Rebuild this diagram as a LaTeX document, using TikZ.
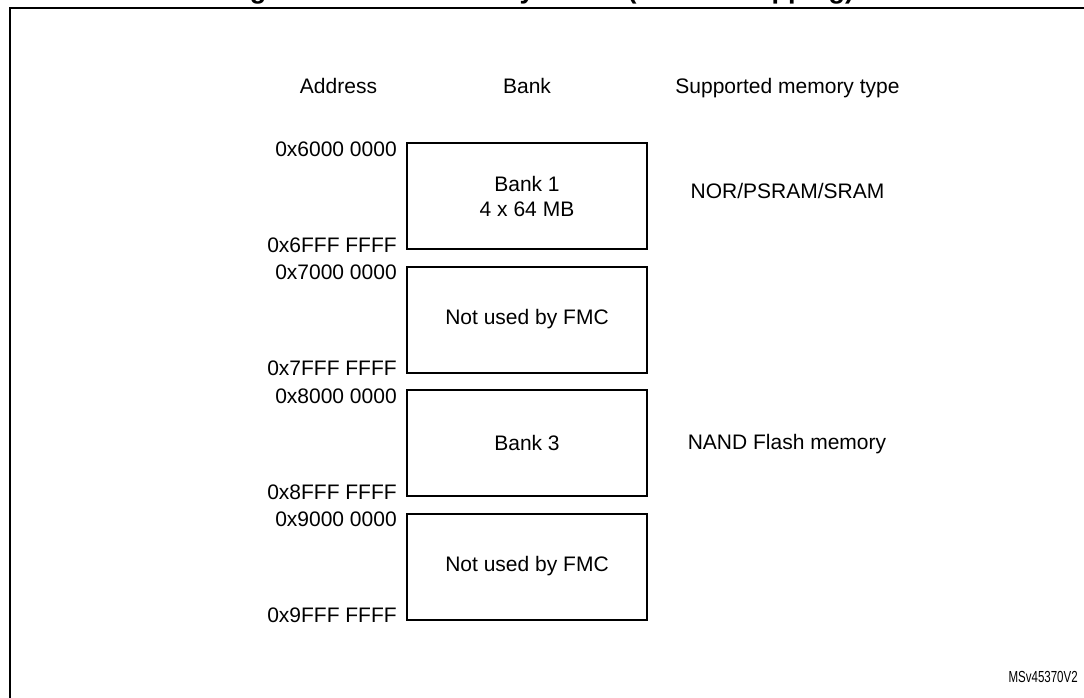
\documentclass[tikz,border=0pt]{standalone}
\usepackage{fontspec}
\usepackage{graphicx}
\setmainfont{Liberation Sans}
\usetikzlibrary{calc}
\begin{document}
\begin{tikzpicture}[x=0.75pt,y=-0.75pt,
  txt/.style={font=\fontsize{15.75}{18.75}\selectfont, inner sep=0pt},
  bankbox/.style={draw, line width=1.5pt, minimum width=180pt, minimum height=79.5pt,
    inner sep=0pt, align=center, font=\fontsize{15.75}{18.75}\selectfont},
  addr/.style={txt, anchor=base east},
  frameline/.style={line width=1.6pt}]
\useasboundingbox (0,0) rectangle (1084,697);
\clip (0,0) rectangle (1084,697);
% clipped title and frame
\node[font=\bfseries\fontsize{20.25}{24}\selectfont, anchor=base, inner sep=0pt] (title) at (540,-2) {Figure 41. FMC memory banks (default mapping)};
\draw[frameline] (1100,8) -- (10,8) -- (10,720);
% headers
\node[txt, anchor=base] (hAddr) at (338.5,93) {Address};
\node[txt, anchor=base] (hBank) at (527,93) {Bank};
\node[txt, anchor=base] (hType) at (787.5,93) {Supported memory type};
% banks
\node[bankbox] (b1) at (527,196) {Bank 1\\4 x 64 MB};
\node[bankbox] (b2) at (527,319.5) {Not used by FMC};
\node[bankbox] (b3) at (527,443) {Bank 3};
\node[bankbox] (b4) at (527,566.5) {Not used by FMC};
% addresses
\node[addr] (a1) at ($(b1.north west)+(-9,14)$) {0x6000 0000};
\node[addr] (a2) at ($(b1.south west)+(-9,2)$) {0x6FFF FFFF};
\node[addr] (a3) at ($(b2.north west)+(-9,14)$) {0x7000 0000};
\node[addr] (a4) at ($(b2.south west)+(-9,2)$) {0x7FFF FFFF};
\node[addr] (a5) at ($(b3.north west)+(-9,14)$) {0x8000 0000};
\node[addr] (a6) at ($(b3.south west)+(-9,2)$) {0x8FFF FFFF};
\node[addr] (a7) at ($(b4.north west)+(-9,14)$) {0x9000 0000};
\node[addr] (a8) at ($(b4.south west)+(-9,2)$) {0x9FFF FFFF};
% memory types
\node[txt, anchor=base] (t1) at (787.5,198) {NOR/PSRAM/SRAM};
\node[txt, anchor=base] (t3) at (787,449) {NAND Flash memory};
% id
\node[font=\fontsize{12}{13}\selectfont, inner sep=0pt, anchor=base east] (id) at (1078,682) {\scalebox{0.72}[1]{MSv45370V2}};
\end{tikzpicture}
\end{document}
